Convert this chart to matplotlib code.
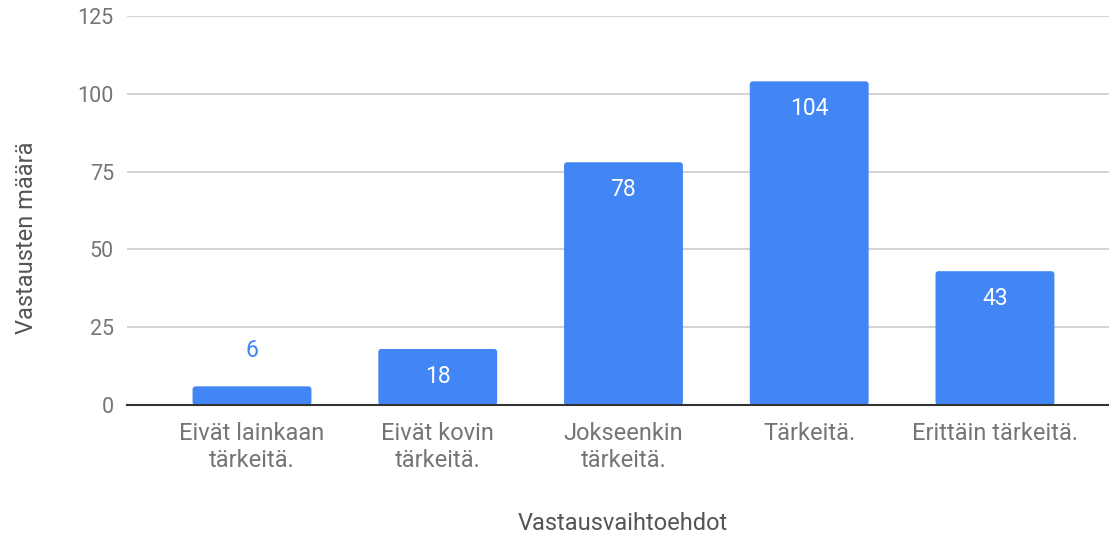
import matplotlib
matplotlib.use("Agg")
import matplotlib.pyplot as plt
from matplotlib.patches import FancyBboxPatch

categories = ["Eivät lainkaan\ntärkeitä.", "Eivät kovin\ntärkeitä.", "Jokseenkin\ntärkeitä.",
              "Tärkeitä.", "Erittäin tärkeitä."]
values = [6, 18, 78, 104, 43]
yticks = [0, 25, 50, 75, 100, 125]

plt.rcParams['font.family'] = ['Roboto', 'DejaVu Sans']

W, H = 1109, 536
fig = plt.figure(figsize=(W / 100, H / 100), dpi=100)
ax = fig.add_axes([127 / W, (H - 405) / H, (1109 - 127) / W, (405 - 16) / H])

blue = "#4285F4"
x = list(range(len(categories)))
bars = ax.bar(x, values, width=0.64, color=blue, zorder=3)

ax.set_xlim(-0.673, 4.614)
ax.set_ylim(0, 125)

# rounded corners
px_x = (1109 - 127) / (4.614 + 0.673)
px_y = (405 - 16) / 125
r = 3.0
for b in bars:
    b.set_visible(False)
    p = FancyBboxPatch((b.get_x(), b.get_y()), b.get_width(), b.get_height(),
                       boxstyle=f"round,pad=0,rounding_size={r / px_x}",
                       mutation_aspect=(r / px_y) / (r / px_x),
                       facecolor=blue, edgecolor="none", zorder=3)
    ax.add_patch(p)

ax.set_yticks(yticks)
ax.set_xticks(x)
ax.set_xticklabels(categories, fontsize=17, color="#757575", linespacing=1.25)
ax.tick_params(axis='y', labelsize=15.5, labelcolor="#757575", length=0, pad=9.5)
ax.tick_params(axis='x', length=0, pad=12)
ax.grid(axis='y', color="#cccccc", linewidth=1.2, zorder=0)
for s in ["top", "right", "left"]:
    ax.spines[s].set_visible(False)
ax.spines["bottom"].set_color("#333333")
ax.spines["bottom"].set_linewidth(1.5)
ax.spines["bottom"].set_zorder(4)

for xi, v in zip(x, values):
    if v < 10:
        ax.annotate(str(v), (xi, v), xytext=(0, 26), textcoords="offset points",
                    ha="center", va="center", fontsize=16.5, color=blue, zorder=5)
    else:
        ax.annotate(str(v), (xi, v), xytext=(0, -19.5), textcoords="offset points",
                    ha="center", va="center", fontsize=16.5, color="white", zorder=5)

fig.text(27 / W, 1 - 238 / H, "Vastausten määrä", rotation=90, ha="center", va="center",
         fontsize=17, color="#555555")
fig.text(623 / W, 1 - 524 / H, "Vastausvaihtoehdot", ha="center", va="center",
         fontsize=17, color="#555555")

fig.savefig("out.png", dpi=100, facecolor="white")
